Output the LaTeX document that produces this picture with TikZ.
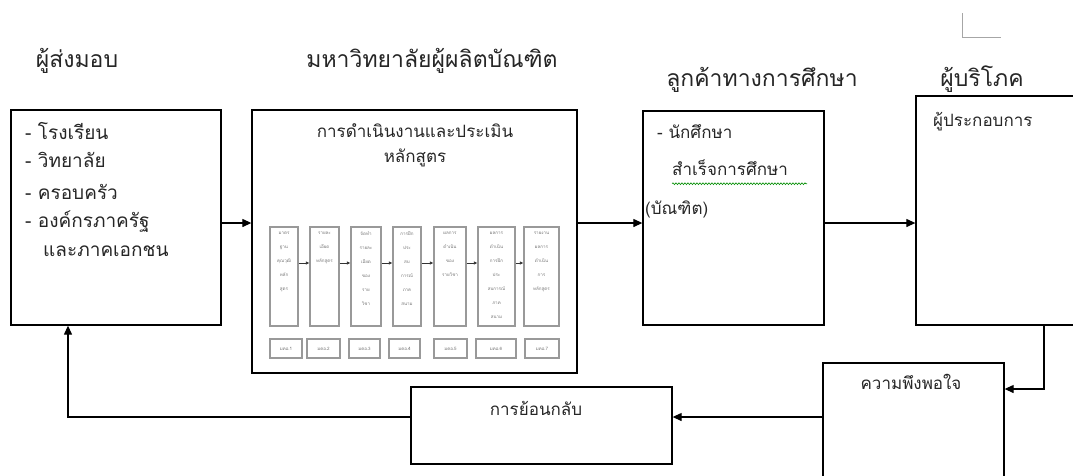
\documentclass[tikz,border=0pt]{standalone}
\usepackage{fontspec}
\setmainfont{Loma}[Script=Thai]
\usetikzlibrary{arrows.meta,fit,decorations.pathmorphing}

\begin{document}
\begin{tikzpicture}[x=1pt,y=-1pt,
    box/.style={draw, line width=1.3pt, inner sep=0pt},
    subbox/.style={draw=black!40, line width=1.1pt, inner sep=0pt},
    title/.style={font=\fontsize{23}{27}\selectfont, text=black!85, inner sep=0pt, text height=0.5em, text depth=0pt},
    big/.style={font=\fontsize{19}{23}\selectfont, text=black!85, inner sep=0pt, anchor=west, text height=0.5em, text depth=0pt},
    txt/.style={font=\fontsize{17}{20}\selectfont, text=black!85, inner sep=0pt, text height=0.5em, text depth=0pt},
    subtxt/.style={font=\fontsize{4.5}{14}\selectfont, text=black!55, inner sep=0pt, align=center},
    arr/.style={-{Triangle[length=9pt,width=8pt]}, line width=1.2pt},
    subarr/.style={-{Latex[length=3.5pt,width=3.5pt]}, line width=0.7pt, black!80}
]
\useasboundingbox (0,0) rectangle (1073,475);
\clip (0,0) rectangle (1073,475);

% Headings
\node[title] (tsup) at (77,65) {ผู้ส่งมอบ};
\node[title] (tuni) at (432,65) {มหาวิทยาลัยผู้ผลิตบัณฑิต};
\node[title] (tcus) at (762,84) {ลูกค้าทางการศึกษา};
\node[title] (tcon) at (982,84) {ผู้บริโภค};

% Main boxes
\node[box, fit={(11,110) (221,325)}] (sup) {};
\node[box, fit={(252,110) (577,373)}] (uni) {};
\node[box, fit={(643,111) (824,325)}] (cus) {};
\node[box, fit={(916,96) (1090,325)}] (con) {};
\node[box, fit={(823,363) (1004,490)}] (sat) {};
\node[box, fit={(411,387) (672,464)}] (fb) {};

% Suppliers
\node[big] (s1) at (25,137) {- โรงเรียน};
\node[big] (s2) at (25,165) {- วิทยาลัย};
\node[big] (s3) at (25,197) {- ครอบครัว};
\node[big] (s4) at (25,225) {- องค์กรภาครัฐ};
\node[big] (s5) at (43,254) {และภาคเอกชน};

% University
\node[txt] (u1) at (415,135) {การดำเนินงานและประเมิน};
\node[txt] (u2) at (415,160) {หลักสูตร};

\coordinate (rowI) at (0,263);
\foreach \k/\xa/\xb/\la/\lb/\txt in {
    1/270/298/270/302/{มาตร\\ฐาน\\คุณวุฒิ\\หลัก\\สูตร},
    2/310/339/307/340/{รายละ\\เอียด\\หลักสูตร},
    3/351/381/349/380/{จัดทำ\\รายละ\\เอียด\\ของ\\ราย\\วิชา},
    4/393/421/389/420/{การฝึก\\ประ\\สบ\\การณ์\\ภาค\\สนาม},
    5/434/466/434/467/{ผลการ\\ดำเนิน\\ของ\\รายวิชา},
    6/478/515/476/516/{ผลการ\\ดำเนิน\\การฝึก\\ประ\\สบการณ์\\ภาค\\สนาม},
    7/524/559/525/559/{รายงาน\\ผลการ\\ดำเนิน\\การ\\หลักสูตร}} {
    \node[subbox, fit={(\xa,227) (\xb,326)}] (st\k) {};
    \node[subtxt, anchor=north, yshift=-5pt] (sx\k) at (st\k.north) {\txt};
    \node[subbox, fit={(\la,339) (\lb,358)}] (lb\k) {};
    \node[subtxt] (lx\k) at (lb\k) {มคอ.\k};
}
\foreach \a/\b in {1/2,2/3,3/4,4/5,5/6,6/7}
    \draw[subarr] (st\a.east |- rowI) -- (st\b.west |- rowI);

% Educational customers
\node[txt, anchor=west] (c1) at (657,136) {- นักศึกษา};
\node[txt, anchor=west] (c2) at (672,173) {สำเร็จการศึกษา};
\node[txt, anchor=west] (c3) at (645,212) {(บัณฑิต)};
\draw[green!55!black, line width=0.6pt, decorate,
    decoration={snake, amplitude=0.9pt, segment length=3pt}]
    (c2.south west) ++(0,8) -- ++(135,0);

% Consumers
\node[txt, anchor=west] (k1) at (933,124) {ผู้ประกอบการ};
\node[txt] (k2) at (911,387) {ความพึงพอใจ};
\node[txt] (k3) at (536,413) {การย้อนกลับ};

% Flow
\coordinate (rowA) at (0,223);
\coordinate (rowF) at (0,417);
\coordinate (rowS) at (0,389);
\coordinate (colR) at (1044,0);
\coordinate (colL) at (68,0);
\draw[arr] (sup.east |- rowA) -- (uni.west |- rowA);
\draw[arr] (uni.east |- rowA) -- (cus.west |- rowA);
\draw[arr] (cus.east |- rowA) -- (con.west |- rowA);
\draw[arr] (colR |- con.south) |- (sat.east |- rowS);
\draw[arr] (sat.west |- rowF) -- (fb.east |- rowF);
\draw[arr] (fb.west |- rowF) -| (colL |- sup.south);

% corner mark
\draw[black!35, line width=1pt] (962,13) -- (962,37) -- (1001,37);
\end{tikzpicture}
\end{document}
